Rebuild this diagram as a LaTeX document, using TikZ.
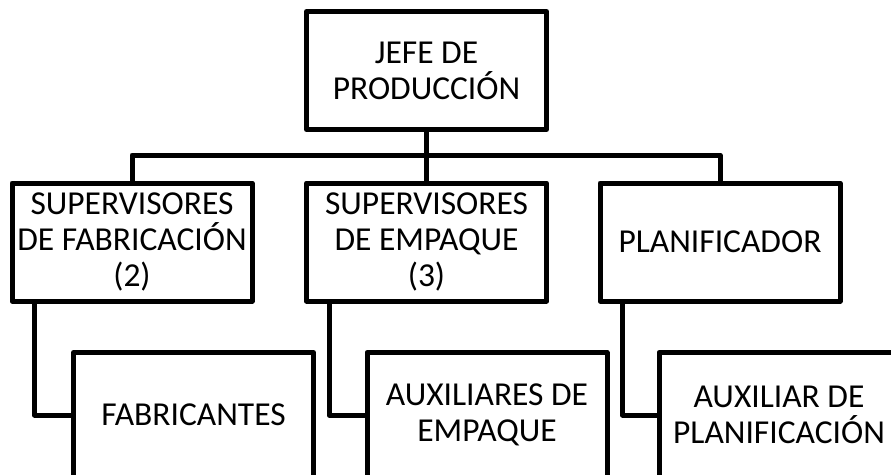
\documentclass[tikz,border=0pt]{standalone}
\usepackage{fontspec}
\setmainfont{Carlito}
\usepackage{tikz}
\tikzstyle{Box}=[rectangle,draw=black,line width=5pt,line join=round,
minimum width=240pt,minimum height=118pt,inner sep=0pt,align=center,
font=\fontsize{33.5}{36}\selectfont]
\tikzstyle{Low}=[Box,minimum height=125pt]
\tikzstyle{Edge}=[draw=black,line width=5pt,line join=round]
\begin{document}
\begin{tikzpicture}[x=1pt,y=-1pt]
        \useasboundingbox (0,0) rectangle (891,474);
        \node[Box](jefe)at(426.5,70.5){JEFE DE\\PRODUCCIÓN};
        \node[Box](sfab)at(132,242){SUPERVISORES\\DE FABRICACIÓN\\(2)};
        \node[Box](semp)at(426.5,242){SUPERVISORES\\DE EMPAQUE\\(3)};
        \node[Box](plan)at(720,242){PLANIFICADOR};
        \node[Low](fab)at(193.5,415){FABRICANTES};
        \node[Low](aemp)at(487,415){AUXILIARES DE\\EMPAQUE};
        \node[Low](aplan)at(779,415){AUXILIAR DE\\PLANIFICACIÓN};
        \coordinate(bus)at(426.5,155);
        \draw[Edge](jefe)--(semp);
        \draw[Edge](sfab.north)|-(bus)-|(plan.north);
        \draw[Edge]([xshift=25pt]sfab.south west)|-(fab.west);
        \draw[Edge]([xshift=25pt]semp.south west)|-(aemp.west);
        \draw[Edge]([xshift=25pt]plan.south west)|-(aplan.west);
    \end{tikzpicture}
\end{document}
